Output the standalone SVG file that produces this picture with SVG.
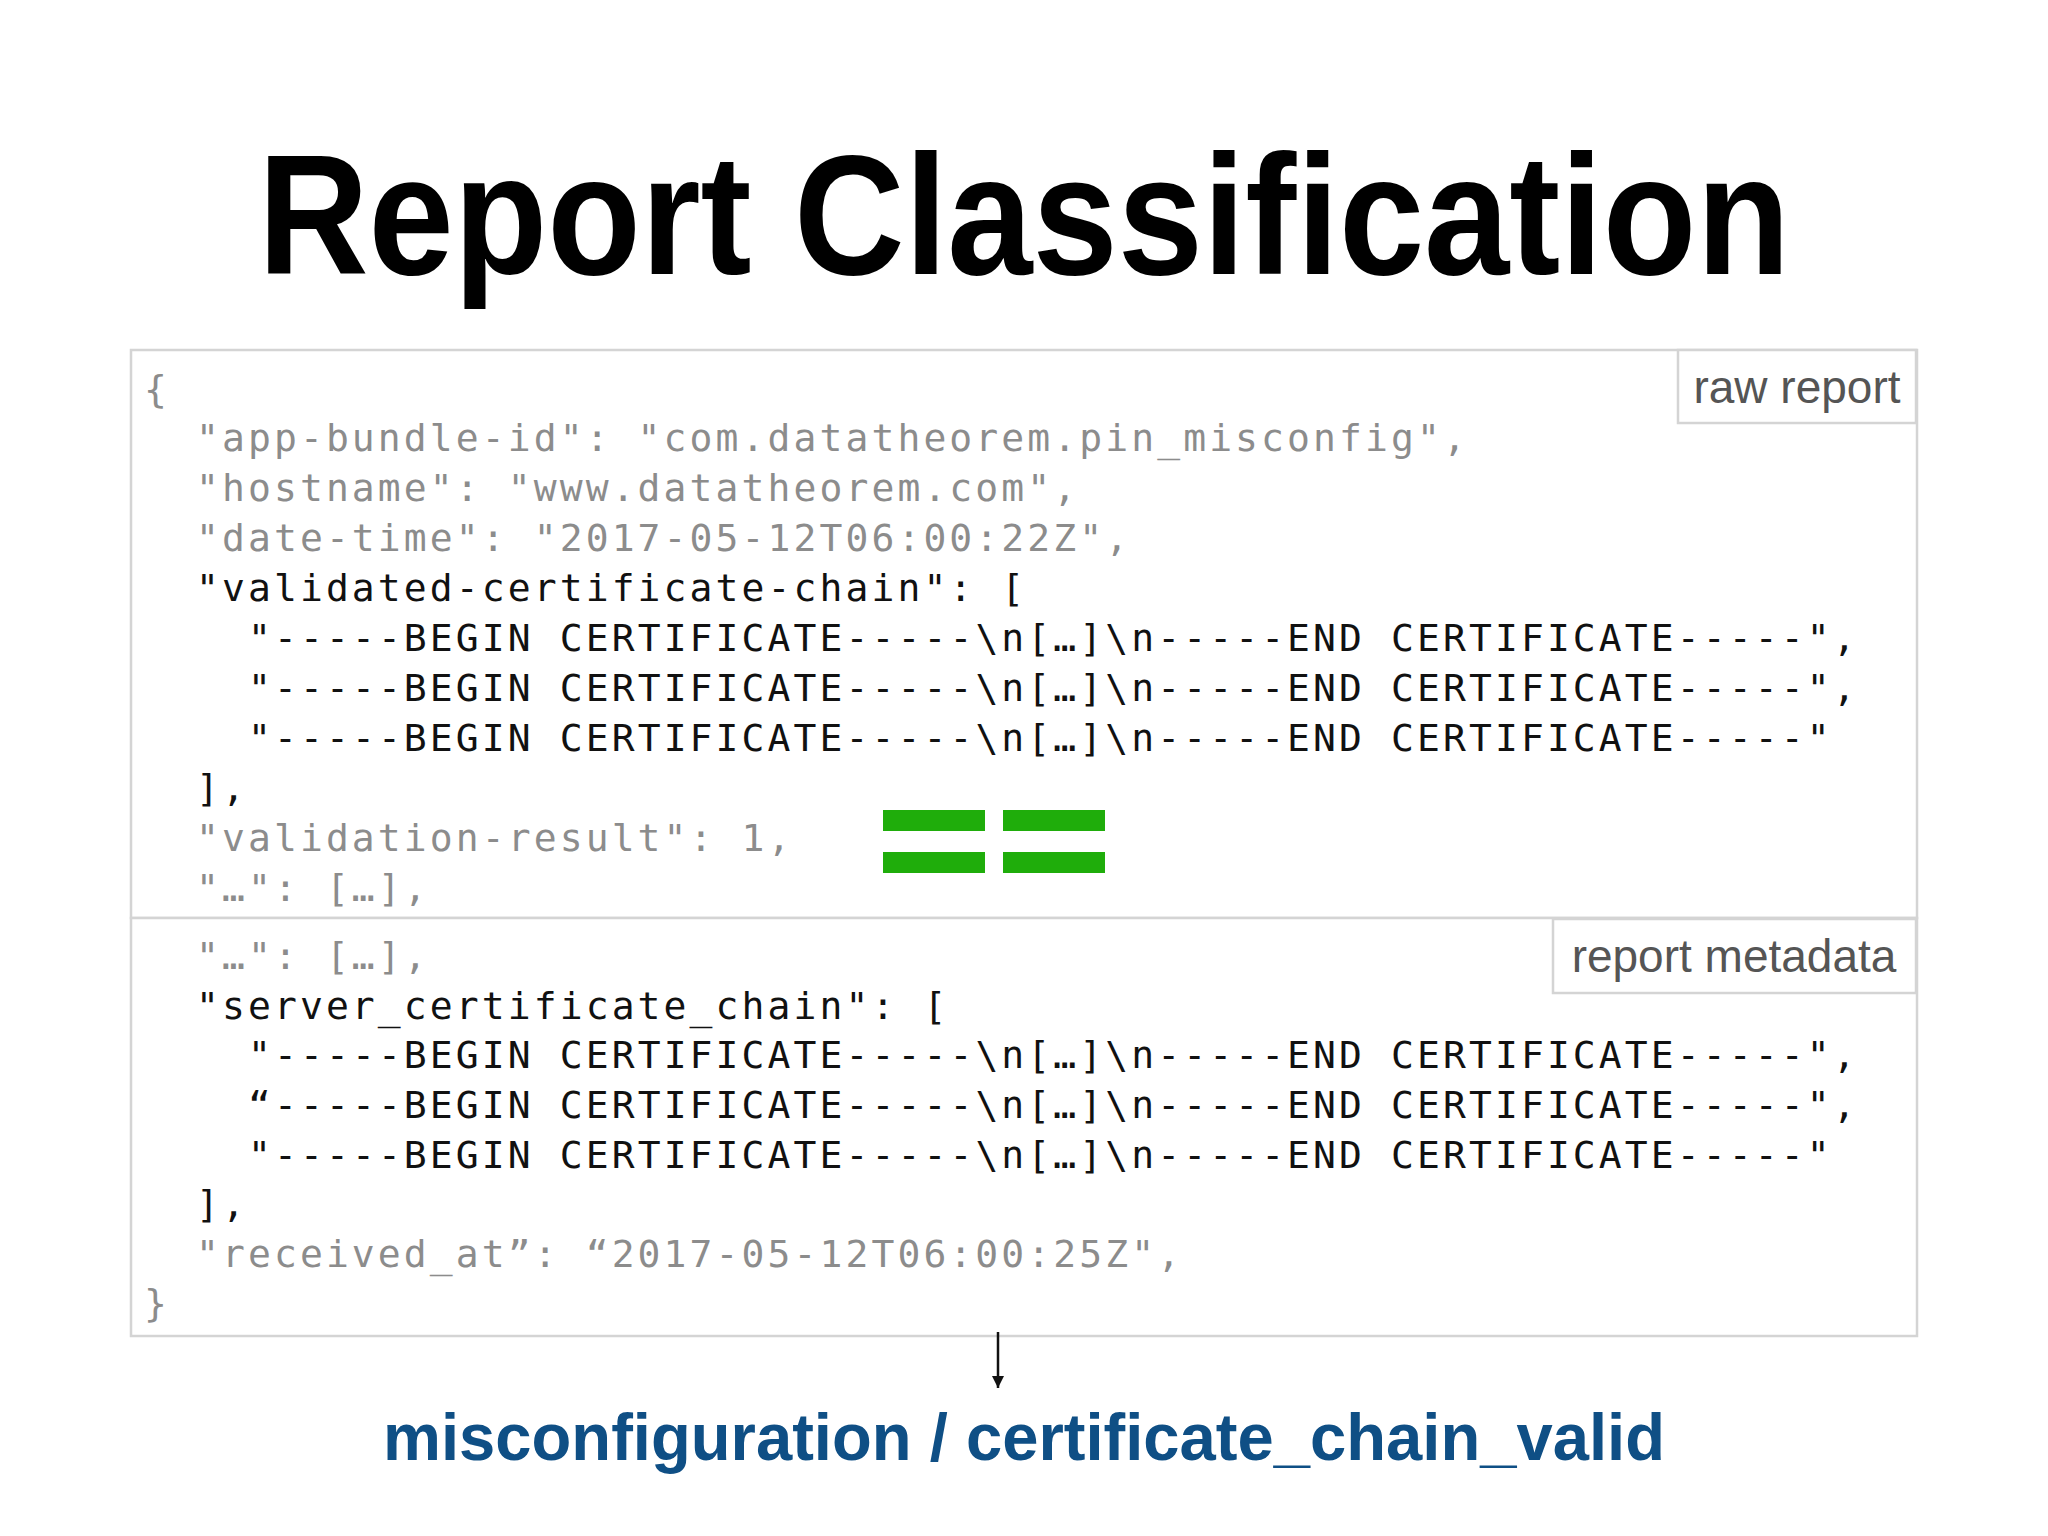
<svg xmlns="http://www.w3.org/2000/svg" width="2048" height="1536" viewBox="0 0 2048 1536">
<style>
.c{font-family:"DejaVu Sans Mono","Liberation Mono",monospace;font-size:38px;letter-spacing:3.1px;white-space:pre}
.g{fill:#8c8c8c}.k{fill:#111}
.lbl{font-family:"Liberation Sans",Arial,sans-serif;font-size:46px;fill:#555}
.box{fill:#fff;stroke:#d4d4d4;stroke-width:2.5}
</style>
<defs><marker id="ah" markerWidth="14" markerHeight="14" refX="12" refY="6" orient="auto" markerUnits="userSpaceOnUse"><path d="M0,0 L12,6 L0,12 Z" fill="#111"/></marker></defs>
<rect width="2048" height="1536" fill="#fff"/>
<text x="1024" y="274" text-anchor="middle" font-family="Liberation Sans,Arial,sans-serif" font-weight="bold" font-size="170" textLength="1532" lengthAdjust="spacingAndGlyphs" fill="#000">Report Classification</text>
<g id="raw">
<rect class="box" x="131" y="350" width="1786" height="568"/>
<rect class="box" x="1678" y="350" width="238" height="73"/>
<text class="lbl" x="1797" y="403" text-anchor="middle">raw report</text>
<text class="c g" x="144" y="402">{</text>
<text class="c g" x="196" y="451">"app-bundle-id": "com.datatheorem.pin_misconfig",</text>
<text class="c g" x="196" y="501">"hostname": "www.datatheorem.com",</text>
<text class="c g" x="196" y="551">"date-time": "2017-05-12T06:00:22Z",</text>
<text class="c k" x="196" y="601">"validated-certificate-chain": [</text>
<text class="c k" x="248" y="651">"-----BEGIN CERTIFICATE-----\n[…]\n-----END CERTIFICATE-----",</text>
<text class="c k" x="248" y="701">"-----BEGIN CERTIFICATE-----\n[…]\n-----END CERTIFICATE-----",</text>
<text class="c k" x="248" y="751">"-----BEGIN CERTIFICATE-----\n[…]\n-----END CERTIFICATE-----"</text>
<text class="c k" x="196" y="801">],</text>
<text class="c g" x="196" y="851">"validation-result": 1,</text>
<text class="c g" x="196" y="901">"…": […],</text>
</g>
<g id="equals" fill="#1fad0b">
<rect x="883" y="810" width="102" height="21"/><rect x="1003" y="810" width="102" height="21"/>
<rect x="883" y="852" width="102" height="21"/><rect x="1003" y="852" width="102" height="21"/>
</g>
<g id="meta">
<rect class="box" x="131" y="918" width="1786" height="418"/>
<rect class="box" x="1553" y="919" width="363" height="74"/>
<text class="lbl" x="1734" y="972" text-anchor="middle">report metadata</text>
<text class="c g" x="196" y="969">"…": […],</text>
<text class="c k" x="196" y="1019">"server_certificate_chain": [</text>
<text class="c k" x="248" y="1068">"-----BEGIN CERTIFICATE-----\n[…]\n-----END CERTIFICATE-----",</text>
<text class="c k" x="248" y="1118">“-----BEGIN CERTIFICATE-----\n[…]\n-----END CERTIFICATE-----",</text>
<text class="c k" x="248" y="1168">"-----BEGIN CERTIFICATE-----\n[…]\n-----END CERTIFICATE-----"</text>
<text class="c k" x="196" y="1217">],</text>
<text class="c g" x="196" y="1267">"received_at”: “2017-05-12T06:00:25Z",</text>
<text class="c g" x="144" y="1316">}</text>
</g>
<g id="connectors">
<line x1="998" y1="1332" x2="998" y2="1388" stroke="#111" stroke-width="2.5" marker-end="url(#ah)"/>
</g>
<g id="result">
<text x="1024" y="1460" text-anchor="middle" font-family="Liberation Sans,Arial,sans-serif" font-weight="bold" font-size="66" textLength="1282" lengthAdjust="spacingAndGlyphs" fill="#0f4f85">misconfiguration / certificate_chain_valid</text>
</g>
</svg>
